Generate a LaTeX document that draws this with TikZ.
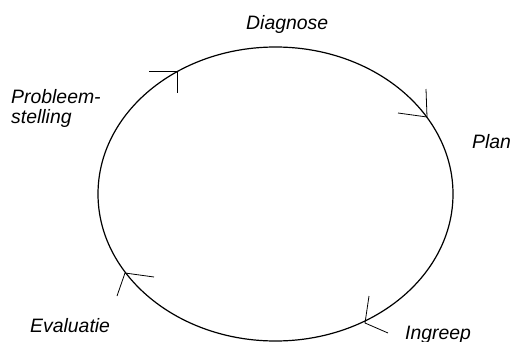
\documentclass[tikz,border=0pt]{standalone}
\usepackage{fontspec}
\setmainfont{Liberation Sans}
\usepackage{tikz}
\usetikzlibrary{positioning}

\begin{document}
\begin{tikzpicture}[x=1pt, y=-1pt,
  phase/.style={font=\fontsize{19.4}{20}\selectfont\itshape, inner sep=0pt, align=left},
  cycle/.style={line width=1.2pt},
  barb/.style={line width=0.8pt}]
\useasboundingbox (0,0) rectangle (513,342);
\draw[cycle] (275.5,194) ellipse [x radius=177.5, y radius=147];
\node[phase, anchor=base west] (diag) at (246,30) {Diagnose};
\node[phase, anchor=base west] (plan) at (472,148) {Plan};
\node[phase, anchor=base west] (ingr) at (405,339) {Ingreep};
\node[phase, anchor=base west] (eval) at (30,332) {Evaluatie};
\node[phase, anchor=base west] (prob) at (11,123) {Probleem-\\stelling};
% open arrow heads along the cycle
\foreach \n/\tx/\ty/\ax/\ay/\bx/\by in {1/177/71/-28/0/0/22, 2/427/117/-1/-28/-29/-4,
    3/365/323/4/-27/23/10, 4/125/273/29/4/-8/23} {
  \coordinate (tip\n) at (\tx,\ty);
  \draw[barb] (tip\n) ++(\ax,\ay) -- (tip\n) -- ++(\bx,\by);
}
\end{tikzpicture}
\end{document}
